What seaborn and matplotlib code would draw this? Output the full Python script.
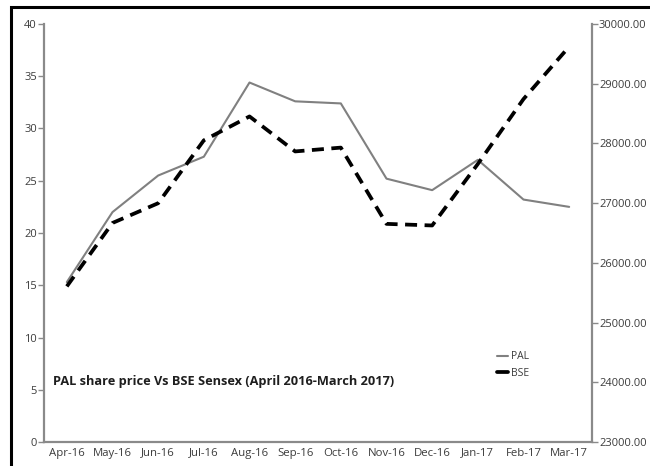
import numpy as np
import pandas as pd
import matplotlib.pyplot as plt
import matplotlib.patches as mpatches
from matplotlib.lines import Line2D
import seaborn as sns

# ── Data ─────────────────────────────────────────────────────────────────────
months = ["Apr-16", "May-16", "Jun-16", "Jul-16", "Aug-16", "Sep-16",
          "Oct-16", "Nov-16", "Dec-16", "Jan-17", "Feb-17", "Mar-17"]
pal = [15.3, 22.0, 25.5, 27.3, 34.4, 32.6, 32.4, 25.2, 24.1, 27.0, 23.2, 22.5]
bse = [25606, 26668, 26999, 28052, 28452, 27866, 27930, 26653, 26626, 27656,
       28743, 29621]
left_ticks = [0, 5, 10, 15, 20, 25, 30, 35, 40]
right_ticks = [23000, 24000, 25000, 26000, 27000, 28000, 29000, 30000]

df = pd.DataFrame({"pos": np.arange(len(months)), "PAL": pal, "BSE": bse})

# ── Style ────────────────────────────────────────────────────────────────────
sns.set_theme(style="white")
plt.rcParams["font.family"] = ["Open Sans", "DejaVu Sans"]
AXIS_GREY = "#8a8a8a"
TEXT_GREY = "#3c3c3c"

fig = plt.figure(figsize=(6.5, 4.66), dpi=100)
ax = fig.add_axes([44 / 650, 24 / 466, 548 / 650, 418 / 466])
ax2 = ax.twinx()

# outer frame of the chart area (cropped at right and bottom)
fig.patches.append(mpatches.Rectangle((11 / 650, -0.05), 1.2, (466 - 7) / 466 + 0.05,
                                      transform=fig.transFigure, fill=False,
                                      edgecolor="black", linewidth=2.2))

sns.lineplot(data=df, x="pos", y="PAL", ax=ax, color="#808080", linewidth=1.5)
sns.lineplot(data=df, x="pos", y="BSE", ax=ax2, color="black", linewidth=2.7)
ax2.lines[0].set_dashes([3.2, 2.0])

ax.set_ylim(0, 40)
ax2.set_ylim(23000, 30000)
ax.set_xlim(-0.5, len(months) - 0.5)
ax.set_yticks(left_ticks)
ax.set_yticklabels([str(t) for t in left_ticks])
ax2.set_yticks(right_ticks)
ax2.set_yticklabels([f"{t:.2f}" for t in right_ticks])

# category labels between the boundary ticks
ax.set_xticks(np.arange(len(months) + 1) - 0.5)
ax.set_xticklabels([""] * (len(months) + 1))
ax.set_xticks(np.arange(len(months)), minor=True)
ax.set_xticklabels(months, minor=True)
ax.tick_params(axis="x", which="minor", length=0, pad=4, labelsize=8.2, colors=TEXT_GREY)
ax.tick_params(axis="x", which="major", length=4, width=1, color=AXIS_GREY)
ax.tick_params(axis="y", which="major", length=4, width=1, color=AXIS_GREY,
               labelsize=8.0, labelcolor=TEXT_GREY, pad=1, left=True)
ax2.tick_params(axis="y", which="major", length=4, width=1, color=AXIS_GREY,
                labelsize=8.0, labelcolor=TEXT_GREY, pad=1, right=True)

for a in (ax, ax2):
    a.set_xlabel("")
    a.set_ylabel("")
    a.spines["top"].set_visible(False)
    for s in ("left", "right", "bottom"):
        a.spines[s].set_color(AXIS_GREY)
        a.spines[s].set_linewidth(1.6)
ax.spines["right"].set_visible(False)
ax2.spines["left"].set_visible(False)
ax2.spines["bottom"].set_visible(False)
ax.grid(False)
ax2.grid(False)

ax.text(53 / 650, (466 - 382) / 466, "PAL share price Vs BSE Sensex (April 2016-March 2017)",
        transform=fig.transFigure, fontsize=9.2, fontweight="bold", color="#1e1e1e",
        va="center", ha="left")

handles = [Line2D([], [], color="#808080", linewidth=1.5),
           Line2D([], [], color="black", linewidth=2.7)]
ax2.legend(handles, ["PAL", "BSE"], loc="center left",
           bbox_to_anchor=(488 / 650, (466 - 365) / 466), bbox_transform=fig.transFigure,
           frameon=False, fontsize=7.5, handlelength=1.0, handletextpad=0.3,
           labelspacing=0.5, labelcolor=TEXT_GREY)

fig.savefig("out.png", dpi=100)
